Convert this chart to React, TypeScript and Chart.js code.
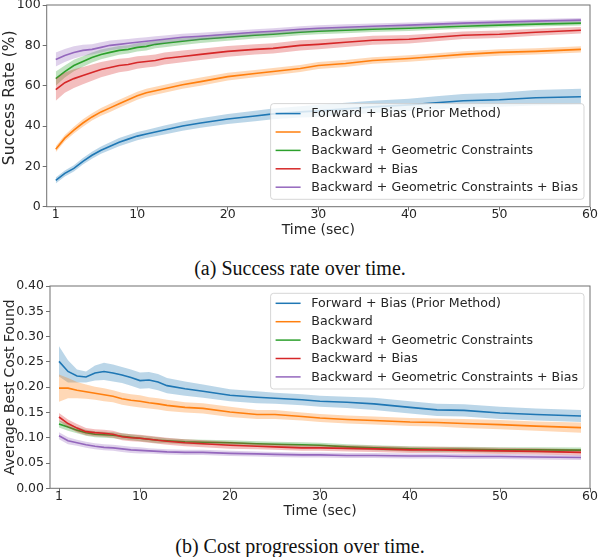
import React, { useEffect, useRef } from 'react';
import { Chart, registerables } from 'chart.js';

Chart.register(...registerables);

// ---------- data ----------
const TIMES = [1, 2, 3, 4, 5, 6, 7, 8, 9, 10, 11, 12, 13, 15, 17, 20, 23, 25, 28, 30, 33, 36, 40, 43, 46, 50, 54, 59];
const X_TICKS = [1, 10, 20, 30, 40, 50, 60];
const SERIES_LABELS = [
  'Forward + Bias (Prior Method)',
  'Backward',
  'Backward + Geometric Constraints',
  'Backward + Bias',
  'Backward + Geometric Constraints + Bias',
];
const SERIES_COLORS = ['#1f77b4', '#ff7f0e', '#2ca02c', '#d62728', '#9467bd'];

// (a) success rate (%)
const SR_FWD = [13, 16.5, 19, 22.5, 25.5, 28, 30, 32, 33.5, 35, 36, 37, 38, 40, 41.5, 43.5, 45, 46, 47, 47.5, 48.5, 49.5, 50.5, 51.5, 52.5, 53, 54, 54.5];
const SR_FWD_ERR = [1.5, 1.5, 1.5, 1.6, 1.7, 1.8, 1.9, 2, 2, 2, 2, 2.1, 2.2, 2.3, 2.4, 2.5, 2.6, 2.7, 2.8, 3, 3, 3, 3, 3.2, 3.4, 3.5, 3.8, 4];
const SR_BWD = [28.5, 34, 38, 41.5, 44.5, 47, 49, 51, 53, 55, 56.5, 57.5, 58.5, 60.5, 62, 64.5, 66, 67, 68.5, 70, 71, 72.5, 73.5, 74.5, 75.5, 76.5, 77, 78];
const SR_BWD_ERR = [1.5, 1.6, 1.7, 1.8, 1.8, 1.9, 2, 2, 2, 2, 2, 2, 2, 2, 2, 1.9, 1.8, 1.8, 1.7, 1.7, 1.7, 1.6, 1.6, 1.6, 1.6, 1.6, 1.6, 1.6];
const SR_GEO = [63.5, 67, 70, 72, 74, 75.5, 76.5, 77.5, 78, 79, 79.5, 80.5, 81, 82, 83, 84, 85, 85.5, 86.5, 87, 87.5, 88, 88.5, 89, 89.5, 90, 90.5, 91];
const SR_GEO_ERR = [3.5, 3, 2.8, 2.6, 2.5, 2.4, 2.3, 2.2, 2.1, 2, 2, 1.9, 1.9, 1.8, 1.8, 1.7, 1.6, 1.6, 1.5, 1.5, 1.5, 1.4, 1.4, 1.3, 1.3, 1.2, 1.2, 1.2];
const SR_BIAS = [58, 61.5, 63.5, 65, 66.5, 68, 69, 70, 70.5, 71.5, 72, 72.5, 73.5, 74.5, 75.5, 77, 78, 78.5, 80, 80.5, 81.5, 82.5, 83, 84, 85, 85.5, 86.5, 87.5];
const SR_BIAS_ERR = [5.5, 5, 4.6, 4.3, 4, 3.8, 3.6, 3.4, 3.2, 3.1, 3, 3, 3, 2.9, 2.8, 2.7, 2.6, 2.5, 2.5, 2.4, 2.3, 2.2, 2.1, 2, 1.9, 1.8, 1.7, 1.6];
const SR_ALL = [73, 75, 76.5, 77.5, 78, 79, 80, 80.5, 81, 81.5, 82, 82.5, 83, 84, 84.5, 85.5, 86.5, 87, 88, 88.5, 89, 89.5, 90, 90.5, 91, 91.5, 92, 92.5];
const SR_ALL_ERR = [3.5, 3.2, 3, 2.8, 2.6, 2.5, 2.4, 2.3, 2.2, 2.1, 2, 2, 1.9, 1.8, 1.7, 1.6, 1.5, 1.5, 1.5, 1.4, 1.4, 1.3, 1.3, 1.2, 1.2, 1.2, 1.1, 1.1];

// (b) average best cost found
const C_FWD = [0.251, 0.231, 0.222, 0.22, 0.228, 0.231, 0.228, 0.224, 0.219, 0.213, 0.214, 0.21, 0.203, 0.197, 0.192, 0.184, 0.18, 0.178, 0.175, 0.172, 0.17, 0.167, 0.16, 0.155, 0.154, 0.149, 0.146, 0.143];
const C_FWD_ERR = [0.03, 0.022, 0.013, 0.011, 0.015, 0.017, 0.017, 0.016, 0.016, 0.016, 0.016, 0.016, 0.015, 0.014, 0.013, 0.012, 0.012, 0.011, 0.011, 0.011, 0.011, 0.012, 0.012, 0.012, 0.012, 0.012, 0.012, 0.012];
const C_BWD = [0.198, 0.198, 0.194, 0.191, 0.188, 0.185, 0.182, 0.177, 0.174, 0.172, 0.169, 0.167, 0.164, 0.16, 0.158, 0.151, 0.146, 0.146, 0.142, 0.139, 0.136, 0.134, 0.131, 0.13, 0.128, 0.126, 0.123, 0.12];
const C_BWD_ERR = [0.027, 0.02, 0.016, 0.014, 0.013, 0.013, 0.012, 0.012, 0.012, 0.012, 0.011, 0.011, 0.011, 0.01, 0.01, 0.01, 0.009, 0.009, 0.008, 0.008, 0.008, 0.008, 0.008, 0.008, 0.009, 0.009, 0.009, 0.01];
const C_GEO = [0.127, 0.121, 0.115, 0.11, 0.107, 0.106, 0.105, 0.103, 0.101, 0.099, 0.097, 0.095, 0.094, 0.092, 0.091, 0.09, 0.088, 0.087, 0.086, 0.085, 0.082, 0.08, 0.078, 0.077, 0.077, 0.076, 0.076, 0.0755];
const C_GEO_ERR = [0.007, 0.007, 0.006, 0.006, 0.006, 0.006, 0.006, 0.006, 0.006, 0.006, 0.006, 0.006, 0.005, 0.005, 0.005, 0.005, 0.005, 0.005, 0.005, 0.005, 0.005, 0.005, 0.005, 0.005, 0.005, 0.005, 0.005, 0.005];
const C_BIAS = [0.141, 0.128, 0.119, 0.112, 0.11, 0.109, 0.107, 0.102, 0.1, 0.099, 0.097, 0.095, 0.093, 0.09, 0.088, 0.085, 0.083, 0.082, 0.08, 0.08, 0.079, 0.078, 0.076, 0.076, 0.075, 0.074, 0.073, 0.071];
const C_BIAS_ERR = [0.008, 0.008, 0.008, 0.007, 0.007, 0.007, 0.007, 0.007, 0.007, 0.007, 0.007, 0.007, 0.007, 0.007, 0.007, 0.007, 0.006, 0.006, 0.006, 0.006, 0.006, 0.006, 0.006, 0.006, 0.006, 0.006, 0.006, 0.006];
const C_ALL = [0.104, 0.094, 0.09, 0.086, 0.083, 0.081, 0.08, 0.078, 0.076, 0.075, 0.074, 0.073, 0.072, 0.071, 0.071, 0.069, 0.068, 0.067, 0.066, 0.066, 0.065, 0.065, 0.064, 0.064, 0.063, 0.063, 0.062, 0.061];
const C_ALL_ERR = [0.007, 0.007, 0.006, 0.006, 0.006, 0.006, 0.006, 0.006, 0.006, 0.006, 0.005, 0.005, 0.005, 0.005, 0.005, 0.005, 0.005, 0.005, 0.005, 0.005, 0.005, 0.005, 0.005, 0.005, 0.005, 0.005, 0.005, 0.005];

const SUCCESS_Y_TICKS = [0, 20, 40, 60, 80, 100];
const COST_Y_TICKS = [0, 0.05, 0.1, 0.15, 0.2, 0.25, 0.3, 0.35, 0.4];

// ---------- style ----------
const FONT = '"DejaVu Sans", sans-serif';
const TEXT = '#262626';
const AXIS = '#707070';

function hexA(hex: string, a: number) {
  const r = parseInt(hex.slice(1, 3), 16);
  const g = parseInt(hex.slice(3, 5), 16);
  const b = parseInt(hex.slice(5, 7), 16);
  return `rgba(${r},${g},${b},${a})`;
}

function buildDatasets(means: number[][], errs: number[][]) {
  const ds: any[] = [];
  means.forEach((m, k) => {
    const e = errs[k];
    const col = SERIES_COLORS[k];
    const base = ds.length;
    ds.push({
      data: TIMES.map((t, i) => ({ x: t, y: m[i] - e[i] })),
      borderWidth: 0, pointRadius: 0, fill: false, borderColor: 'transparent',
      order: 100 - (k * 3),
    });
    ds.push({
      data: TIMES.map((t, i) => ({ x: t, y: m[i] + e[i] })),
      borderWidth: 0, pointRadius: 0, borderColor: 'transparent',
      backgroundColor: hexA(col, 0.3),
      fill: { target: base },
      order: 100 - (k * 3 + 1),
    });
    ds.push({
      data: TIMES.map((t, i) => ({ x: t, y: m[i] })),
      borderColor: col, borderWidth: 1.6, pointRadius: 0, fill: false, tension: 0,
      order: 100 - (k * 3 + 2),
    });
  });
  return ds;
}

const framePlugin = {
  id: 'frame',
  afterDatasetsDraw(chart: any) {
    const { ctx, chartArea } = chart;
    const { left, top, right, bottom } = chartArea;
    ctx.save();
    ctx.strokeStyle = AXIS;
    ctx.lineWidth = 1;
    ctx.strokeRect(left, top, right - left, bottom - top);
    ctx.restore();
  },
};

const yTitlePlugin = {
  id: 'yTitle',
  afterDraw(chart: any, _args: any, opts: any) {
    const { ctx, chartArea } = chart;
    const cy = (chartArea.top + chartArea.bottom) / 2 + opts.offset;
    ctx.save();
    ctx.translate(10, cy);
    ctx.rotate(-Math.PI / 2);
    ctx.font = `${opts.size}px ${FONT}`;
    ctx.fillStyle = TEXT;
    ctx.textAlign = 'center';
    ctx.textBaseline = 'middle';
    ctx.fillText(opts.text, 0, 0);
    ctx.restore();
  },
};

const boxLegendPlugin = {
  id: 'boxLegend',
  afterDraw(chart: any, _args: any, opts: any) {
    const { ctx, chartArea } = chart;
    ctx.save();
    ctx.font = `12.6px ${FONT}`;
    let maxW = 0;
    SERIES_LABELS.forEach((l) => { maxW = Math.max(maxW, ctx.measureText(l).width); });
    const w = 40.7 + maxW + 6;
    const h = 95.7;
    const x = chartArea.right - 6 - w;
    const y = opts.anchor === 'bottom' ? chartArea.bottom - 7.4 - h : chartArea.top + 7.3;
    ctx.beginPath();
    ctx.roundRect(x, y, w, h, 3);
    ctx.fillStyle = 'rgba(255,255,255,0.8)';
    ctx.fill();
    ctx.strokeStyle = 'rgba(204,204,204,0.8)';
    ctx.lineWidth = 1;
    ctx.stroke();
    SERIES_LABELS.forEach((l, i) => {
      const cy = y + 10 + i * 18.4;
      ctx.strokeStyle = SERIES_COLORS[i];
      ctx.lineWidth = 1.5;
      ctx.beginPath();
      ctx.moveTo(x + 5, cy);
      ctx.lineTo(x + 30, cy);
      ctx.stroke();
      ctx.fillStyle = TEXT;
      ctx.textBaseline = 'middle';
      ctx.textAlign = 'left';
      ctx.fillText(l, x + 40.7, cy + 0.5);
    });
    ctx.restore();
  },
};

type PanelCfg = {
  means: number[][];
  errs: number[][];
  yTicks: number[];
  yFmt: (v: number) => string;
  yTitle: string;
  yTitleSize: number;
  yTitleOffset: number;
  yMax: number;
  yAxisWidth: number;
  xAxisHeight: number;
  padTop: number;
  legendAnchor: 'top' | 'bottom';
};

function Panel({ cfg, top, height }: { cfg: PanelCfg; top: number; height: number }) {
  const ref = useRef<HTMLCanvasElement>(null);
  useEffect(() => {
    if (!ref.current) return;
    const chart = new Chart(ref.current, {
      type: 'line',
      data: { datasets: buildDatasets(cfg.means, cfg.errs) },
      plugins: [framePlugin, boxLegendPlugin, yTitlePlugin],
      options: {
        animation: false,
        responsive: false,
        devicePixelRatio: 1,
        layout: { padding: { top: cfg.padTop, right: 10, left: 0, bottom: 0 } },
        plugins: {
          legend: { display: false },
          tooltip: { enabled: false },
          boxLegend: { anchor: cfg.legendAnchor },
          yTitle: { text: cfg.yTitle, size: cfg.yTitleSize, offset: cfg.yTitleOffset },
        } as any,
        scales: {
          x: {
            type: 'linear',
            min: 0,
            max: 60,
            afterBuildTicks: (s: any) => { s.ticks = X_TICKS.map((v) => ({ value: v })); },
            afterFit: (s: any) => { s.height = cfg.xAxisHeight; s.paddingLeft = 0; s.paddingRight = 0; },
            grid: { drawOnChartArea: false, drawTicks: true, tickLength: 4, color: AXIS },
            border: { display: false },
            ticks: { font: { family: FONT, size: 12.5, lineHeight: 1 }, color: TEXT, padding: -2, autoSkip: false, maxRotation: 0 },
            title: { display: true, text: 'Time (sec)', font: { family: FONT, size: 14 }, color: TEXT, padding: { top: 0, bottom: 0.9 } },
          },
          y: {
            type: 'linear',
            min: 0,
            max: cfg.yMax,
            afterBuildTicks: (s: any) => { s.ticks = cfg.yTicks.map((v) => ({ value: v })); },
            afterFit: (s: any) => { s.width = cfg.yAxisWidth; s.paddingTop = 0; s.paddingBottom = 0; },
            grid: { drawOnChartArea: false, drawTicks: true, tickLength: 4, color: AXIS },
            border: { display: false },
            ticks: { font: { family: FONT, size: 12.5, lineHeight: 1 }, color: TEXT, padding: 2, autoSkip: false, callback: (v: any) => cfg.yFmt(Number(v)) },
            title: { display: false },
          },
        },
      } as any,
    });
    return () => chart.destroy();
  }, [cfg]);
  return (
    <canvas
      ref={ref}
      width={600}
      height={height}
      style={{ position: 'absolute', left: 0, top, width: 600, height }}
    />
  );
}

const SUCCESS_CFG: PanelCfg = {
  means: [SR_FWD, SR_BWD, SR_GEO, SR_BIAS, SR_ALL],
  errs: [SR_FWD_ERR, SR_BWD_ERR, SR_GEO_ERR, SR_BIAS_ERR, SR_ALL_ERR],
  yTicks: SUCCESS_Y_TICKS,
  yFmt: (v) => String(v),
  yTitle: 'Success Rate (%)',
  yTitleSize: 15.5,
  yTitleOffset: -8,
  yMax: 100,
  yAxisWidth: 46.7,
  xAxisHeight: 33.3,
  padTop: 5,
  legendAnchor: 'bottom',
};

const COST_CFG: PanelCfg = {
  means: [C_FWD, C_BWD, C_GEO, C_BIAS, C_ALL],
  errs: [C_FWD_ERR, C_BWD_ERR, C_GEO_ERR, C_BIAS_ERR, C_ALL_ERR],
  yTicks: COST_Y_TICKS,
  yFmt: (v) => v.toFixed(2),
  yTitle: 'Average Best Cost Found',
  yTitleSize: 14,
  yTitleOffset: 0,
  yMax: 0.4,
  yAxisWidth: 50,
  xAxisHeight: 32.7,
  padTop: 8,
  legendAnchor: 'top',
};

const captionStyle: React.CSSProperties = {
  position: 'absolute',
  left: 0,
  width: 600,
  textAlign: 'center',
  fontFamily: '"Liberation Serif", "Times New Roman", serif',
  fontSize: 20,
  lineHeight: '24px',
  color: '#111',
  whiteSpace: 'nowrap',
};

export default function App() {
  return (
    <div style={{ position: 'absolute', left: 0, top: 0, width: 600, height: 557, background: '#fff', overflow: 'hidden' }}>
      <Panel cfg={SUCCESS_CFG} top={0} height={240} />
      <div style={{ ...captionStyle, top: 255.5 }}>(a) Success rate over time.</div>
      <Panel cfg={COST_CFG} top={278} height={243} />
      <div style={{ ...captionStyle, top: 534 }}>(b) Cost progression over time.</div>
    </div>
  );
}
